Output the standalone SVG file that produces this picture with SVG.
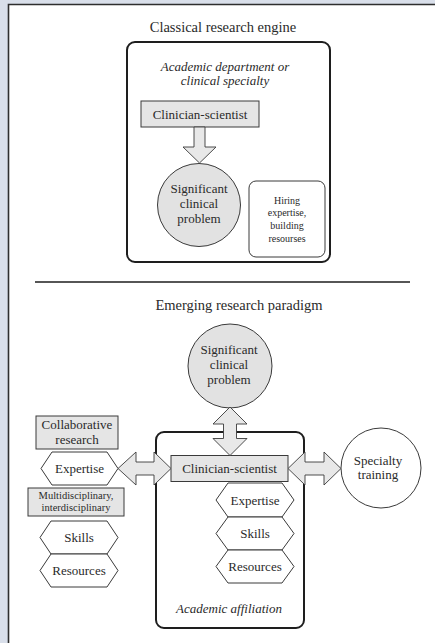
<svg xmlns="http://www.w3.org/2000/svg" width="435" height="643" viewBox="0 0 435 643" font-family="'Liberation Serif', 'Times New Roman', 'DejaVu Serif', serif">
<style>
text { font-family: 'Liberation Serif', 'Times New Roman', 'DejaVu Serif', serif; fill: #2a2a2a; text-anchor: middle; }
.t13 { font-size: 13px; }
.title { font-size: 14.5px; }
.ital { font-size: 13px; font-style: italic; }
.small { font-size: 10px; }
.small2 { font-size: 10.5px; }
.frame { fill: none; stroke: #1e1e1e; stroke-width: 2; }
.box { fill: #e5e5e5; stroke: #3a3a3a; stroke-width: 1; }
.circ { fill: #e2e2e2; stroke: #3a3a3a; stroke-width: 1; }
.wcirc { fill: #ffffff; stroke: #3a3a3a; stroke-width: 1; }
.hex { fill: #ffffff; stroke: #3a3a3a; stroke-width: 1; }
.arrow { fill: #e8e8e8; stroke: #3a3a3a; stroke-width: 0.9; stroke-linejoin: miter; }
.wbox { fill: #ffffff; stroke: #3a3a3a; stroke-width: 1; }
</style>
<rect x="0" y="0" width="435" height="643" fill="#d9dfea"/>
<rect x="8.5" y="4.5" width="427" height="639" fill="#ffffff"/>
<path d="M8.5,643 V4.5 H435" fill="none" stroke="#2e2e2e" stroke-width="1.6"/>

<g id="section-classical">
  <text class="title" x="223" y="32">Classical research engine</text>
  <g id="academic-department">
    <rect class="frame" x="127" y="42" width="203" height="220" rx="8"/>
    <text class="ital" x="225" y="71">Academic department or</text>
    <text class="ital" x="225" y="85">clinical specialty</text>
  </g>
  <g id="clinician-scientist-1">
    <rect class="box" x="141" y="101" width="118" height="26"/>
    <text class="t13" x="200" y="118.5">Clinician-scientist</text>
  </g>
  <g id="problem-1">
    <circle class="circ" cx="199" cy="205" r="41.5"/>
    <text class="t13" x="199" y="193">Significant</text>
    <text class="t13" x="199" y="208">clinical</text>
    <text class="t13" x="199" y="223">problem</text>
  </g>
  <g id="hiring">
    <rect class="wbox" x="249" y="181" width="76" height="76" rx="7"/>
    <text class="small" x="287" y="204">Hiring</text>
    <text class="small" x="287" y="216">expertise,</text>
    <text class="small" x="287" y="229">building</text>
    <text class="small" x="287" y="242">resourses</text>
  </g>
</g>

<line x1="35" y1="282" x2="410" y2="282" stroke="#1e1e1e" stroke-width="1.3"/>

<g id="section-emerging">
  <text class="title" x="239" y="310">Emerging research paradigm</text>
  <g id="academic-affiliation">
    <rect class="frame" x="156" y="432" width="148" height="196" rx="8"/>
    <text class="ital" x="229" y="613">Academic affiliation</text>
  </g>
  <g id="problem-2">
    <circle class="circ" cx="230" cy="366" r="42"/>
    <text class="t13" x="229" y="354">Significant</text>
    <text class="t13" x="229" y="369">clinical</text>
    <text class="t13" x="229" y="384">problem</text>
  </g>
  <g id="clinician-scientist-2">
    <rect class="box" x="171" y="455.5" width="117" height="26"/>
    <text class="t13" x="229.5" y="473">Clinician-scientist</text>
  </g>
  <g id="specialty-training">
    <circle class="wcirc" cx="381" cy="468" r="40"/>
    <text class="t13" x="378" y="465">Specialty</text>
    <text class="t13" x="378" y="479">training</text>
  </g>
  <g id="expertise-inner">
    <polygon class="hex" points="216,500 228,483 282,483 294,500 282,517 228,517"/>
    <text class="t13" x="255" y="504.5">Expertise</text>
  </g>
  <g id="skills-inner">
    <polygon class="hex" points="216,533.5 228,517 282,517 294,533.5 282,550 228,550"/>
    <text class="t13" x="255" y="538">Skills</text>
  </g>
  <g id="resources-inner">
    <polygon class="hex" points="216,566.5 228,550 282,550 294,566.5 282,583 228,583"/>
    <text class="t13" x="255" y="571">Resources</text>
  </g>
  <g id="collaborative-research">
    <rect class="box" x="36" y="416" width="82" height="33"/>
    <text class="t13" x="77" y="429">Collaborative</text>
    <text class="t13" x="77" y="444">research</text>
  </g>
  <g id="expertise-outer">
    <polygon class="hex" points="41,468.5 52,452 107,452 118,468.5 107,485 52,485"/>
    <text class="t13" x="79.5" y="473">Expertise</text>
  </g>
  <g id="multidisciplinary">
    <rect class="box" x="28" y="488" width="96" height="28"/>
    <text class="small2" x="76" y="498.5">Multidisciplinary,</text>
    <text class="small2" x="76" y="511">interdisciplinary</text>
  </g>
  <g id="skills-outer">
    <polygon class="hex" points="40,537.5 51,521 107,521 118,537.5 107,554 51,554"/>
    <text class="t13" x="79" y="542">Skills</text>
  </g>
  <g id="resources-outer">
    <polygon class="hex" points="40,570.5 51,554 107,554 118,570.5 107,587 51,587"/>
    <text class="t13" x="79" y="575">Resources</text>
  </g>
</g>

<g id="connectors">
  <polygon class="arrow" points="194,127 205,127 205,147 216,147 199.5,163 183,147 194,147"/>
  <polygon class="arrow" points="230,407 247,424 236.5,424 236.5,438.5 247,438.5 230,455.5 213,438.5 223.5,438.5 223.5,424 213,424"/>
  <polygon class="arrow" points="118,468.5 136,452 136,462 154,462 154,452 171,468.5 154,485 154,475 136,475 136,485"/>
  <polygon class="arrow" points="288,468.5 305,452 305,462 324,462 324,452 341,468.5 324,485 324,475 305,475 305,485"/>
</g>
</svg>
